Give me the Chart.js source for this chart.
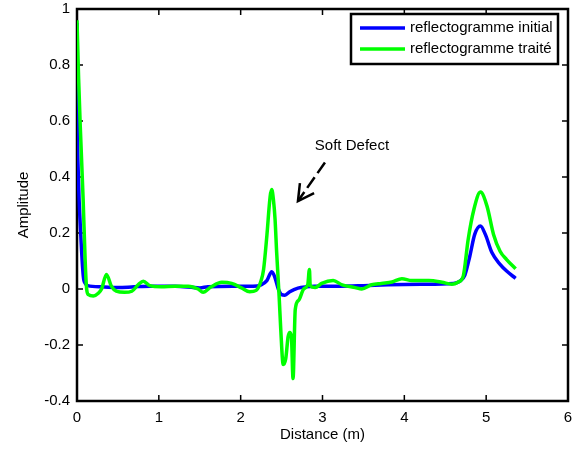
<!DOCTYPE html>
<html>
<head>
<meta charset="utf-8">
<script src="https://cdn.jsdelivr.net/npm/chart.js@4/dist/chart.umd.min.js"></script>
<style>
  html, body { margin: 0; padding: 0; background: #fff; }
  #wrap { width: 574px; height: 449px; }
</style>
</head>
<body>
<div id="wrap"><canvas id="myChart" width="574" height="449"></canvas></div>
<script>
/* ===== du lieu: distance (m) / amplitude ===== */
const seriesNames = ['reflectogramme initial', 'reflectogramme traité'];
const seriesColors = ['#0000ff', '#00ff00'];

const distInitial = [0, 0.005, 0.016, 0.045, 0.077, 0.1, 0.13, 0.3, 0.5, 0.7, 0.9, 1.2, 1.5, 1.6, 1.9, 2.15,
  2.25, 2.32, 2.38, 2.42, 2.46, 2.5, 2.54, 2.6, 2.7, 2.8, 2.9, 3.2, 3.5, 3.8, 4.2, 4.6, 4.68, 4.74, 4.8,
  4.86, 4.93, 4.99, 5.07, 5.17, 5.25, 5.36];
const ampInitial = [0.95, 0.6, 0.41, 0.2, 0.045, 0.02, 0.012, 0.008, 0.005, 0.008, 0.01, 0.01, 0.004, 0.008, 0.01, 0.01,
  0.015, 0.03, 0.062, 0.04, 0.0, -0.02, -0.022, -0.01, 0.003, 0.008, 0.01, 0.01, 0.012, 0.015, 0.017, 0.02, 0.028, 0.05, 0.117,
  0.195, 0.225, 0.195, 0.13, 0.088, 0.064, 0.038];

const distTraite = [0, 0.02, 0.04, 0.075, 0.1, 0.118, 0.14, 0.2, 0.26, 0.3, 0.36, 0.42, 0.48, 0.58, 0.67, 0.75,
  0.81, 0.89, 1.03, 1.2, 1.36, 1.48, 1.54, 1.64, 1.77, 1.89, 2.01, 2.11, 2.19, 2.25, 2.28, 2.32, 2.36, 2.38,
  2.4, 2.42, 2.44, 2.47, 2.49, 2.52, 2.55, 2.58, 2.6, 2.62, 2.64, 2.667, 2.71, 2.77, 2.82, 2.84, 2.85, 2.91,
  2.99, 3.13, 3.24, 3.4, 3.48, 3.6, 3.72, 3.85, 3.97, 4.09, 4.3, 4.46, 4.58, 4.66, 4.72, 4.78, 4.85, 4.93,
  5.01, 5.09, 5.17, 5.25, 5.36];
const ampTraite = [0.96, 0.75, 0.58, 0.32, 0.1, 0.0, -0.02, -0.025, -0.015, 0.0, 0.052, 0.01, -0.008, -0.012, -0.008, 0.016,
  0.028, 0.012, 0.008, 0.01, 0.01, 0.0, -0.012, 0.008, 0.024, 0.02, 0.004, -0.01, -0.005, 0.03, 0.07, 0.19, 0.33, 0.355,
  0.32, 0.25, 0.13, -0.026, -0.145, -0.27, -0.25, -0.17, -0.155, -0.17, -0.32, -0.073, -0.04, 0.0, 0.016, 0.07, 0.012, 0.005,
  0.02, 0.03, 0.015, 0.005, 0.0, 0.015, 0.02, 0.025, 0.037, 0.03, 0.03, 0.024, 0.017, 0.025, 0.046, 0.177, 0.284, 0.346,
  0.296, 0.195, 0.135, 0.105, 0.072];

const xTicks = [0, 1, 2, 3, 4, 5, 6];
const yTicks = [-0.4, -0.2, 0, 0.2, 0.4, 0.6, 0.8, 1];

const noteText = 'Soft Defect';
const noteTail = { x: 3.03, y: 0.452 };
const noteTip = { x: 2.70, y: 0.314 };
const notePos = { x: 3.36, y: 0.51 };

const FONT = '"Liberation Sans", Arial, Helvetica, sans-serif';
Chart.defaults.font.family = FONT;
Chart.defaults.font.size = 15;
Chart.defaults.color = '#000';

function toPoints(xs, ys) {
  return xs.map((x, i) => ({ x: x, y: ys[i] }));
}

// khung + vach chia huong vao trong (kieu matlab)
const framePlugin = {
  id: 'frame',
  beforeDatasetsDraw(chart) {
    const { ctx, chartArea: a, scales } = chart;
    ctx.save();
    ctx.strokeStyle = '#000';
    ctx.lineWidth = 1.5;
    ctx.beginPath();
    xTicks.forEach(v => {
      const px = scales.x.getPixelForValue(v);
      ctx.moveTo(px, a.bottom); ctx.lineTo(px, a.bottom - 6);
      ctx.moveTo(px, a.top); ctx.lineTo(px, a.top + 6);
    });
    yTicks.forEach(v => {
      const py = scales.y.getPixelForValue(v);
      ctx.moveTo(a.left, py); ctx.lineTo(a.left + 6, py);
      ctx.moveTo(a.right, py); ctx.lineTo(a.right - 6, py);
    });
    ctx.stroke();
    ctx.lineWidth = 2.5;
    ctx.strokeRect(a.left, a.top, a.right - a.left, a.bottom - a.top);
    ctx.restore();
  },
  afterDatasetsDraw(chart) {
    const { ctx, chartArea: a, scales } = chart;
    ctx.save();

    // legend
    const bx = a.right - 10, bw = 207, by = a.top + 5, bh = 50;
    ctx.fillStyle = '#fff';
    ctx.fillRect(bx - bw, by, bw, bh);
    ctx.strokeStyle = '#000';
    ctx.lineWidth = 2.5;
    ctx.strokeRect(bx - bw, by, bw, bh);
    ctx.font = '15px ' + FONT;
    ctx.textBaseline = 'middle';
    ctx.textAlign = 'left';
    seriesNames.forEach((name, i) => {
      const ry = by + 14 + i * 21;
      ctx.strokeStyle = seriesColors[i];
      ctx.lineWidth = 3.5;
      ctx.beginPath();
      ctx.moveTo(bx - bw + 9, ry);
      ctx.lineTo(bx - bw + 54, ry);
      ctx.stroke();
      ctx.fillStyle = '#000';
      ctx.fillText(name, bx - bw + 59, ry);
    });

    // chu thich + mui ten net dut
    const tx = scales.x.getPixelForValue(noteTail.x), ty = scales.y.getPixelForValue(noteTail.y);
    const hx = scales.x.getPixelForValue(noteTip.x), hy = scales.y.getPixelForValue(noteTip.y);
    ctx.strokeStyle = '#000';
    ctx.lineWidth = 2.5;
    ctx.setLineDash([13, 5]);
    ctx.beginPath();
    ctx.moveTo(tx, ty);
    ctx.lineTo(hx, hy);
    ctx.stroke();
    ctx.setLineDash([]);
    const ang = Math.atan2(ty - hy, tx - hx);
    ctx.beginPath();
    ctx.moveTo(hx + 18 * Math.cos(ang - 0.5), hy + 18 * Math.sin(ang - 0.5));
    ctx.lineTo(hx, hy);
    ctx.lineTo(hx + 18 * Math.cos(ang + 0.5), hy + 18 * Math.sin(ang + 0.5));
    ctx.stroke();
    ctx.fillStyle = '#000';
    ctx.textAlign = 'center';
    ctx.fillText(noteText, scales.x.getPixelForValue(notePos.x), scales.y.getPixelForValue(notePos.y));
    ctx.restore();
  }
};

const ctx = document.getElementById('myChart').getContext('2d');

const chart = new Chart(ctx, {
  type: 'line',
  data: {
    datasets: [
      {
        label: seriesNames[0],
        data: toPoints(distInitial, ampInitial),
        borderColor: seriesColors[0],
        borderWidth: 3.5,
        pointRadius: 0,
        cubicInterpolationMode: 'monotone',
        order: 1
      },
      {
        label: seriesNames[1],
        data: toPoints(distTraite, ampTraite),
        borderColor: seriesColors[1],
        borderWidth: 3.5,
        pointRadius: 0,
        cubicInterpolationMode: 'monotone',
        order: 0
      }
    ]
  },
  options: {
    animation: false,
    responsive: false,
    layout: { padding: { left: 0, right: 6, top: 9, bottom: 0 } },
    plugins: {
      legend: { display: false },
      tooltip: { enabled: false }
    },
    scales: {
      x: {
        type: 'linear',
        min: 0,
        max: 6,
        // bo khoang dem tu nhan dau/cuoi, giu dung vung ve
        afterFit: s => { s.height = 48; s.paddingLeft = 0; s.paddingRight = 0; },
        afterBuildTicks: s => { s.ticks = xTicks.map(v => ({ value: v })); },
        grid: { display: false, drawTicks: false },
        border: { display: false },
        ticks: { padding: 8, maxRotation: 0, autoSkip: false },
        title: { display: true, text: 'Distance (m)', padding: { top: 0, bottom: 5 } }
      },
      y: {
        type: 'linear',
        min: -0.4,
        max: 1,
        afterFit: s => { s.width = 77; s.paddingTop = 0; s.paddingBottom = 0; },
        afterBuildTicks: s => { s.ticks = yTicks.map(v => ({ value: v })); },
        grid: { display: false, drawTicks: false },
        border: { display: false },
        ticks: { padding: 7, callback: v => String(+v.toFixed(1)) },
        title: { display: true, text: 'Amplitude', padding: { top: 15, bottom: 0 } }
      }
    }
  },
  plugins: [framePlugin]
});
</script>
</body>
</html>
